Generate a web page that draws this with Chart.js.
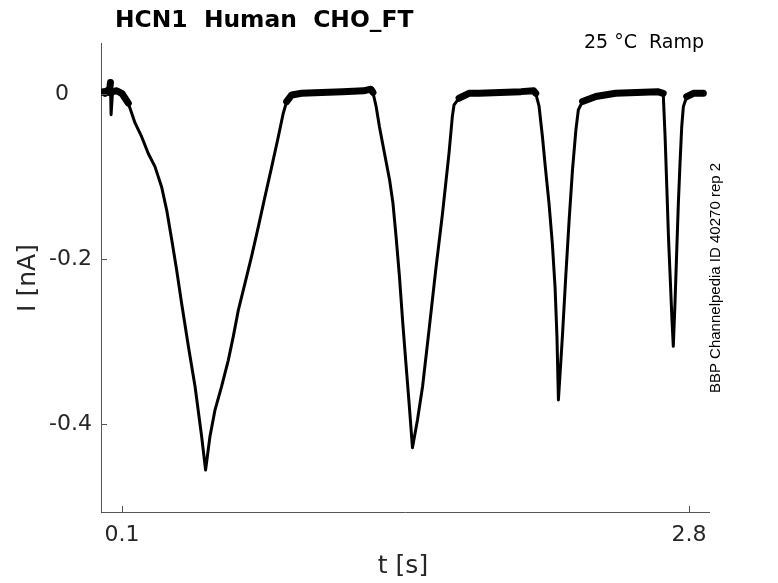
<!DOCTYPE html>
<html>
<head>
<meta charset="utf-8">
<script src="https://cdn.jsdelivr.net/npm/chart.js@4.4.1/dist/chart.umd.min.js"></script>
<style>
html,body{margin:0;padding:0;background:#fff;}
#wrap{width:778px;height:583px;position:relative;}
</style>
</head>
<body>
<div id="wrap"><canvas id="c" width="778" height="583"></canvas></div>
<script>
// ---- data ----
const TITLE = "HCN1  Human  CHO_FT";
const SUBTITLE = "25 °C  Ramp";
const SIDE_NOTE = "BBP Channelpedia ID 40270 rep 2";
const X_LABEL = "t [s]";
const Y_LABEL = "I [nA]";
const X_TICKS = [0.1, 2.8];
const X_TICK_LABELS = ["0.1", "2.8"];
const Y_TICKS = [0, -0.2, -0.4];
const Y_TICK_LABELS = ["0", "-0.2", "-0.4"];
const X_RANGE = [0, 2.895];
const Y_RANGE = [-0.507, 0.062];

const timeS = [
  // baseline + artefact
  0.000, 0.015, 0.020, 0.030, 0.040, 0.045, 0.048, 0.055, 0.075, 0.099,
  // trough 1 descent
  0.130, 0.162, 0.194, 0.225, 0.257, 0.289, 0.313, 0.337, 0.360, 0.384,
  0.416, 0.448, 0.479, 0.498,
  // trough 1 rise
  0.519, 0.543, 0.574, 0.606, 0.630, 0.654, 0.686, 0.717, 0.749, 0.781,
  0.813, 0.844, 0.868, 0.884, 0.908, 0.955,
  // plateau 1
  1.050, 1.150, 1.250, 1.285,
  // trough 2
  1.295, 1.310, 1.326, 1.350, 1.374, 1.390, 1.405, 1.421, 1.437, 1.452,
  1.467, 1.483, 1.507, 1.531, 1.562, 1.594, 1.626, 1.657, 1.673, 1.681,
  1.705, 1.752, 1.800,
  // plateau 2
  1.900, 2.000, 2.060,
  // trough 3
  2.070, 2.086, 2.102, 2.117, 2.133, 2.149, 2.162, 2.171, 2.178, 2.197,
  2.213, 2.229, 2.245, 2.261, 2.273, 2.293, 2.356,
  // plateau 3
  2.450, 2.550, 2.650,
  // trough 4
  2.677, 2.686, 2.694, 2.702, 2.710, 2.718, 2.725, 2.733, 2.741, 2.749,
  2.757, 2.765, 2.773, 2.789, 2.821, 2.868
];
const currentNA = [
  0.002, 0.003, 0.001, 0.004, 0.002, 0.014, -0.025, 0.003, 0.004, 0.001,
  -0.011, -0.035, -0.052, -0.072, -0.088, -0.113, -0.141, -0.177, -0.213, -0.254,
  -0.306, -0.355, -0.415, -0.456,
  -0.415, -0.383, -0.355, -0.323, -0.294, -0.262, -0.229, -0.197, -0.161, -0.124,
  -0.088, -0.052, -0.023, -0.009, -0.001, 0.001,
  0.002, 0.003, 0.004, 0.006,
  0.002, -0.015, -0.040, -0.072, -0.104, -0.132, -0.173, -0.221, -0.278, -0.327,
  -0.375, -0.429, -0.395, -0.355, -0.286, -0.213, -0.145, -0.072, -0.027, -0.013,
  -0.005, 0.001, 0.001,
  0.002, 0.003, 0.004,
  0.001, -0.015, -0.052, -0.092, -0.132, -0.181, -0.234, -0.294, -0.371, -0.294,
  -0.221, -0.153, -0.092, -0.044, -0.019, -0.009, -0.003,
  0.001, 0.002, 0.003,
  0.001, -0.052, -0.112, -0.173, -0.221, -0.270, -0.306, -0.254, -0.193, -0.133,
  -0.084, -0.040, -0.015, -0.003, 0.001, 0.001
];

// ---- styles ----
const AXIS_COLOR = '#555555';
const TEXT_COLOR = '#262626';
const TICK_FONT = '22px "DejaVu Sans"';
const Y_LABEL_RIGHT = [69, 92, 92]; // right edge of each y tick label (px)

const points = timeS.map((t, i) => ({ x: t, y: currentNA[i] }));

const overlay = {
  id: 'overlay',
  afterDraw(chart) {
    const ctx = chart.ctx;
    const xs = chart.scales.x, ys = chart.scales.y, ca = chart.chartArea;
    ctx.save();
    ctx.strokeStyle = AXIS_COLOR;
    ctx.lineWidth = 1;
    ctx.beginPath();
    Y_TICKS.forEach(v => {
      const py = Math.round(ys.getPixelForValue(v)) + 0.5;
      ctx.moveTo(ca.left, py); ctx.lineTo(ca.left + 6, py);
    });
    X_TICKS.forEach(v => {
      const px = Math.round(xs.getPixelForValue(v)) + 0.5;
      ctx.moveTo(px, ca.bottom); ctx.lineTo(px, ca.bottom - 6);
    });
    ctx.stroke();
    ctx.fillStyle = TEXT_COLOR;
    ctx.font = TICK_FONT;
    ctx.textBaseline = 'middle';
    ctx.textAlign = 'right';
    Y_TICKS.forEach((v, i) => {
      ctx.fillText(Y_TICK_LABELS[i], Y_LABEL_RIGHT[i], ys.getPixelForValue(v));
    });
    ctx.textAlign = 'center';
    X_TICKS.forEach((v, i) => {
      ctx.fillText(X_TICK_LABELS[i], xs.getPixelForValue(v), ca.bottom + 23);
    });
    ctx.font = '25px "DejaVu Sans"';
    ctx.fillText(X_LABEL, 403, 566);
    ctx.save();
    ctx.translate(28, 278);
    ctx.rotate(-Math.PI / 2);
    ctx.fillText(Y_LABEL, 0, 0);
    ctx.restore();
    ctx.fillStyle = '#000';
    ctx.font = 'bold 23.4px "DejaVu Sans"';
    ctx.textAlign = 'left';
    ctx.textBaseline = 'alphabetic';
    ctx.fillText(TITLE, 115, 27);
    ctx.font = '19px "DejaVu Sans"';
    ctx.textAlign = 'right';
    ctx.fillText(SUBTITLE, 704, 48);
    ctx.save();
    ctx.translate(716, 278);
    ctx.rotate(-Math.PI / 2);
    ctx.font = '15px "Liberation Sans"';
    ctx.textAlign = 'center';
    ctx.textBaseline = 'middle';
    ctx.fillText(SIDE_NOTE, 0, 0);
    ctx.restore();
    ctx.restore();
  }
};

new Chart(document.getElementById('c'), {
  type: 'line',
  data: {
    datasets: [{
      data: points,
      borderColor: '#000',
      borderWidth: 3,
      borderCapStyle: 'round',
      borderJoinStyle: 'round',
      pointRadius: 0,
      tension: 0,
      fill: false,
      segment: {
        borderWidth: c => (c.p0.parsed.y > -0.012 && c.p1.parsed.y > -0.012) ? 7 : 3
      }
    }]
  },
  options: {
    responsive: false,
    animation: false,
    events: [],
    layout: { padding: { top: 43, right: 69, bottom: 0, left: 0 } },
    plugins: { legend: { display: false }, tooltip: { enabled: false }, title: { display: false } },
    scales: {
      x: {
        type: 'linear', min: X_RANGE[0], max: X_RANGE[1],
        afterBuildTicks: s => { s.ticks = X_TICKS.map(v => ({ value: v })); },
        afterFit: s => { s.height = 71; },
        ticks: { display: false },
        grid: { display: true, drawOnChartArea: false, drawTicks: false, color: 'rgba(0,0,0,0)' },
        border: { display: true, color: AXIS_COLOR, width: 1 }
      },
      y: {
        type: 'linear', min: Y_RANGE[0], max: Y_RANGE[1],
        afterBuildTicks: s => { s.ticks = Y_TICKS.map(v => ({ value: v })); },
        afterFit: s => { s.width = 101; },
        ticks: { display: false },
        grid: { display: true, drawOnChartArea: false, drawTicks: false, color: 'rgba(0,0,0,0)' },
        border: { display: true, color: AXIS_COLOR, width: 1 }
      }
    }
  },
  plugins: [overlay]
});
</script>
</body>
</html>
